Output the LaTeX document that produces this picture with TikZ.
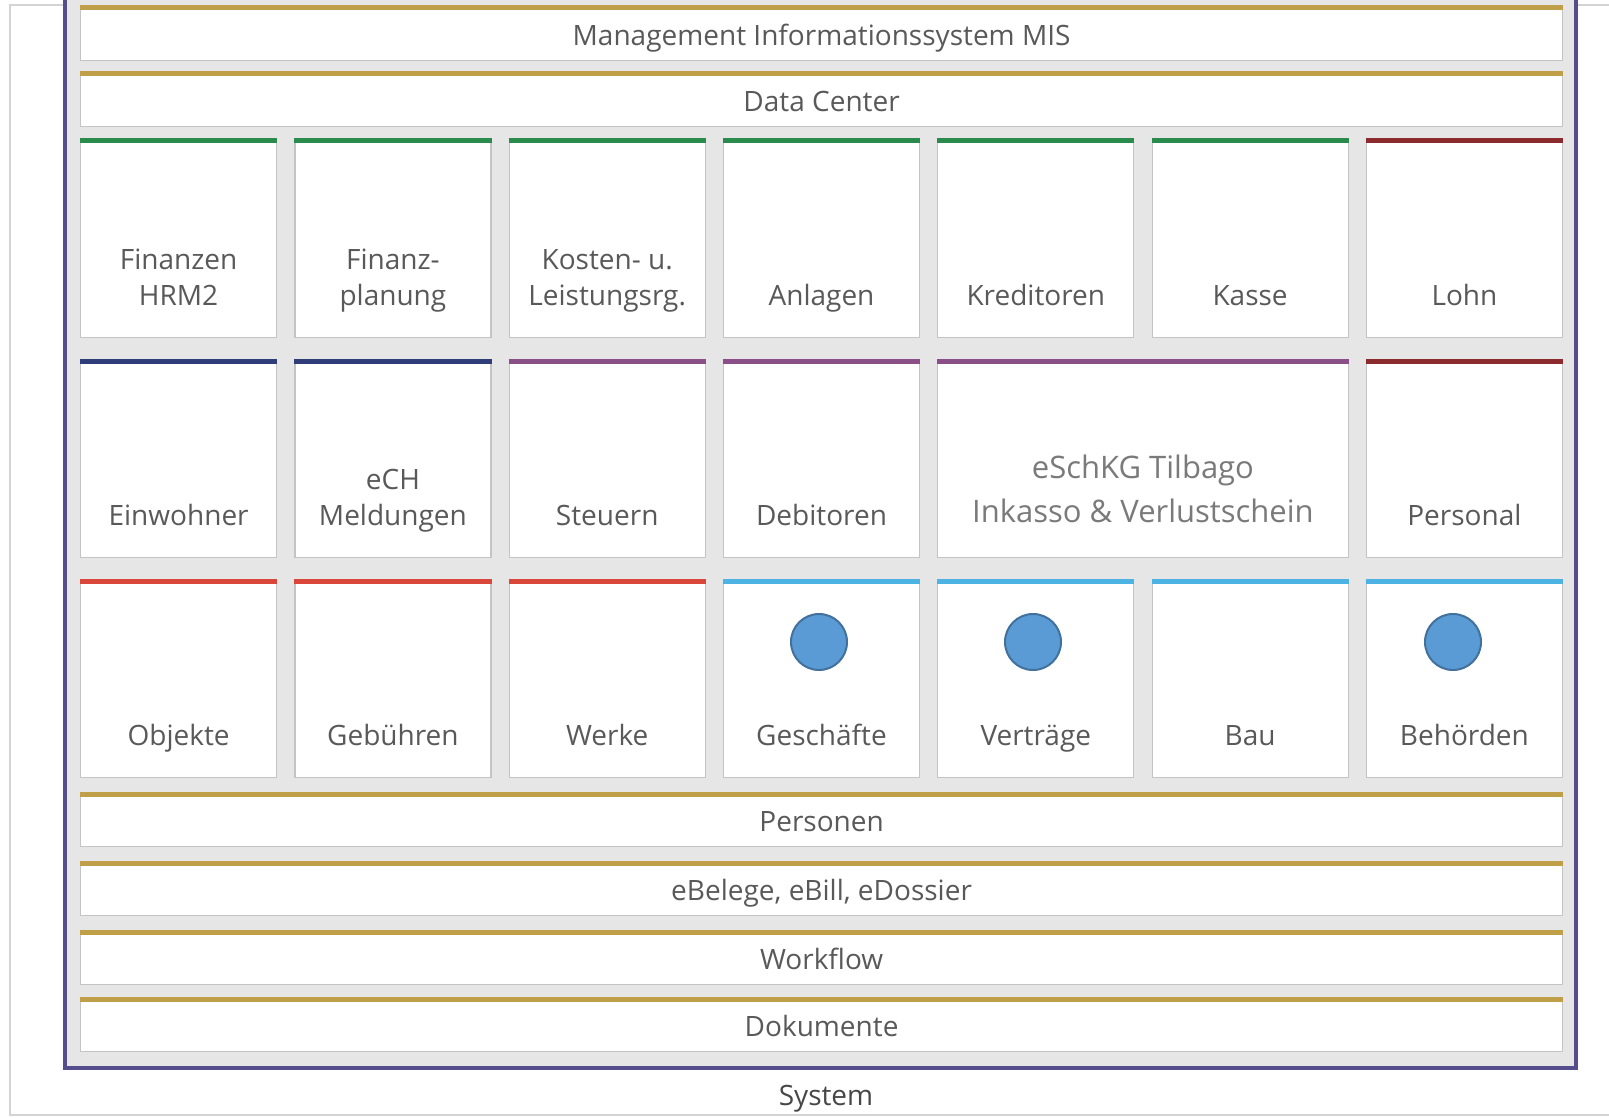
\documentclass[tikz,border=0pt]{standalone}
\usepackage{fontspec}
\setmainfont{Open Sans}
\usetikzlibrary{positioning}
\definecolor{rahmen}{HTML}{564E8C}
\definecolor{grund}{HTML}{E6E6E6}
\definecolor{aussen}{HTML}{D4D4D4}
\definecolor{boxline}{HTML}{C4C4C4}
\definecolor{txt}{HTML}{595959}
\definecolor{txthell}{HTML}{7A7A7A}
\definecolor{gold}{HTML}{BFA048}
\definecolor{gruen}{HTML}{2A8C4C}
\definecolor{dunkelrot}{HTML}{8C2B2E}
\definecolor{dunkelblau}{HTML}{2F3D78}
\definecolor{lila}{HTML}{8A4E88}
\definecolor{rot}{HTML}{D9473B}
\definecolor{hellblau}{HTML}{4DB3E2}
\definecolor{punktblau}{HTML}{5B9BD5}
\definecolor{punktrand}{HTML}{41719C}

\tikzset{
  modul/.style={draw=boxline, fill=white, line width=1.2pt, minimum width=196pt,
    minimum height=196pt, inner sep=0pt, anchor=north west},
  schicht/.style={draw=boxline, fill=white, line width=1.2pt, minimum width=1482pt,
    minimum height=52pt, inner sep=0pt, anchor=north west, text=txt,
    text height=24pt, text depth=3pt},
  topbar/.style={line width=5pt, draw=#1},
  titel/.style={text=txt, align=center, anchor=base, inner sep=0pt},
  punkt/.style={circle, fill=punktblau, draw=punktrand, line width=2pt,
    minimum size=56pt, inner sep=0pt},
}

\begin{document}
\begin{tikzpicture}[x=1pt, y=-1pt, font=\fontsize{28}{36}\selectfont]
  \useasboundingbox (0,0) rectangle (1609,1118);
  % Rahmen
  \draw[aussen, line width=2pt] (1609,5) -- (10,5) -- (10,1115) -- (1609,1115);
  \draw[rahmen, fill=grund, line width=4pt] (65,-20) rectangle (1576,1068);

  % Schichten
  \foreach \y/\name/\txt in {8/mis/Management Informationssystem MIS, 74/dc/Data Center,
      794/pers/Personen, 863/ebel/{eBelege, eBill, eDossier}, 932/wf/Workflow,
      999/dok/Dokumente} {
    \node[schicht] (\name) at (80,\y) {\txt};
    \draw[topbar=gold] (\name.north west) -- (\name.north east);
  }

  % Module
  \foreach \c/\r/\farbe/\name/\txt in {
      0/0/gruen/fin/{Finanzen\\HRM2}, 1/0/gruen/finpl/{Finanz-\\planung},
      2/0/gruen/klr/{Kosten- u.\\Leistungsrg.}, 3/0/gruen/anl/Anlagen,
      4/0/gruen/kred/Kreditoren, 5/0/gruen/kasse/Kasse,
      6/0/dunkelrot/lohn/Lohn,
      0/1/dunkelblau/einw/Einwohner, 1/1/dunkelblau/ech/{eCH\\Meldungen},
      2/1/lila/steu/Steuern, 3/1/lila/deb/Debitoren,
      6/1/dunkelrot/perso/Personal,
      0/2/rot/obj/Objekte, 1/2/rot/geb/Gebühren, 2/2/rot/werke/Werke,
      3/2/hellblau/gesch/Geschäfte, 4/2/hellblau/vertr/Verträge,
      5/2/hellblau/bau/Bau, 6/2/hellblau/beh/Behörden} {
    \node[modul] (\name) at (80+\c*214.3, 141+\r*220) {};
    \draw[topbar=\farbe] (\name.north west) -- (\name.north east);
    \node[titel] (t\name) at ([yshift=33pt]\name.south) {\txt};
  }

  % eSchKG ueber zwei Spalten
  \node[modul, minimum width=410.3pt] (eschkg) at (937.2,361) {};
  \draw[topbar=lila] (eschkg.north west) -- (eschkg.north east);
  \node[titel, text=txthell, font=\fontsize{31}{44}\selectfont] (teschkg)
    at ([yshift=36pt]eschkg.south) {eSchKG Tilbago\\Inkasso \& Verlustschein};

  % Punkte
  \node[punkt] (p1) at (819,642) {};
  \node[punkt] (p2) at (1033,642) {};
  \node[punkt] (p3) at (1453,642) {};

  \node[text=txt!80!black] (sys) at (826,1099) {System};
\end{tikzpicture}
\end{document}
